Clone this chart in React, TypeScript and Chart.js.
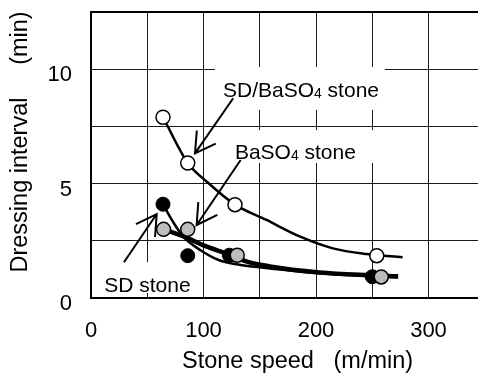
import { useEffect, useRef } from 'react';
import { Chart, registerables } from 'chart.js';

Chart.register(...registerables);

// Axis tick labels shown
const xTickLabels = [0, 100, 200, 300];
const yTickLabels = [0, 5, 10];

// Measured points
const sdBaPointsX = [64, 86, 128, 254];
const sdBaPointsY = [7.9, 5.9, 4.08, 1.85];
const sdPointsX = [64, 86, 123, 250];
const sdPointsY = [4.1, 1.85, 1.87, 0.93];
const baPointsX = [64.5, 86, 130, 258];
const baPointsY = [3.0, 3.0, 1.87, 0.92];

// Fitted curves
const sdBaCurveX = [64, 86, 103, 128, 156, 186, 215, 245, 277];
const sdBaCurveY = [7.9, 5.9, 5.08, 4.08, 3.41, 2.68, 2.17, 1.92, 1.78];
const baCurveX = [64.5, 86, 100, 123, 138, 159, 203, 245, 273];
const baCurveY = [3.0, 2.62, 2.3, 1.9, 1.6, 1.38, 1.12, 1.0, 0.95];
const sdCurveX = [64, 72, 82, 97, 114, 132, 150, 186, 220, 250, 273];
const sdCurveY = [4.1, 3.4, 2.68, 2.1, 1.65, 1.45, 1.34, 1.15, 1.02, 0.95, 0.9];

// Annotation texts (in data units)
const labelTexts = [
  { parts: ['SD/BaSO', '4', ' stone'], x: 117.3, y: 8.8, box: [110.2, 10.1, 261.2, 8.22] },
  { parts: ['BaSO', '4', ' stone'], x: 127.9, y: 6.06, box: [121.7, 7.34, 255, 5.9] },
  { parts: ['SD stone'], x: 11.8, y: 0.275, box: [8, 1.57, 92.4, 0.22] },
];
const arrows = [
  { from: [126.4, 8.73], to: [92.4, 6.32] },
  { from: [133, 6.03], to: [93.9, 3.19] },
  { from: [29.3, 1.56], to: [58.4, 3.67] },
];

const FONT = '"Liberation Sans", Arial, Helvetica, sans-serif';

const zip = (xs: number[], ys: number[]) => xs.map((x, i) => ({ x, y: ys[i] }));

const annotPlugin = {
  id: 'annot',
  beforeDatasetsDraw(chart: any) {
    const { ctx } = chart;
    const xs = chart.scales.x;
    const ys = chart.scales.y;
    const px = (v: number) => xs.getPixelForValue(v);
    const py = (v: number) => ys.getPixelForValue(v);
    ctx.save();
    ctx.fillStyle = '#fff';
    for (const l of labelTexts) {
      const [x0, y0, x1, y1] = l.box;
      ctx.fillRect(px(x0), py(y0), px(x1) - px(x0), py(y1) - py(y0));
    }
    ctx.fillStyle = '#000';
    ctx.textBaseline = 'alphabetic';
    ctx.textAlign = 'left';
    for (const l of labelTexts) {
      let cx = px(l.x);
      const by = py(l.y);
      l.parts.forEach((p, i) => {
        const sub = l.parts.length === 3 && i === 1;
        ctx.font = sub ? `14px ${FONT}` : `21px ${FONT}`;
        ctx.fillText(p, cx, sub ? by + 1 : by);
        cx += ctx.measureText(p).width;
      });
    }
    ctx.strokeStyle = '#000';
    ctx.lineWidth = 2;
    ctx.lineCap = 'butt';
    for (const a of arrows) {
      const x1 = px(a.from[0]), y1 = py(a.from[1]);
      const x2 = px(a.to[0]), y2 = py(a.to[1]);
      const ang = Math.atan2(y1 - y2, x1 - x2);
      const L = 23;
      const h = Math.PI / 6;
      ctx.beginPath();
      ctx.moveTo(x1, y1);
      ctx.lineTo(x2, y2);
      ctx.moveTo(x2 + L * Math.cos(ang + h), y2 + L * Math.sin(ang + h));
      ctx.lineTo(x2, y2);
      ctx.lineTo(x2 + L * Math.cos(ang - h), y2 + L * Math.sin(ang - h));
      ctx.stroke();
    }
    ctx.restore();
  },
};

export default function App() {
  const ref = useRef<HTMLCanvasElement | null>(null);
  useEffect(() => {
    document.body.style.margin = '0';
    const canvas = ref.current;
    if (!canvas) return;
    const chart = new Chart(canvas, {
      type: 'scatter',
      data: {
        datasets: [
          {
            label: 'SD/BaSO4 stone',
            data: zip(sdBaPointsX, sdBaPointsY),
            pointRadius: 7,
            pointBackgroundColor: '#fff',
            pointBorderColor: '#000',
            pointBorderWidth: 1.5,
            order: 1,
          },
          {
            label: 'BaSO4 stone',
            data: zip(baPointsX, baPointsY),
            pointRadius: 7,
            pointBackgroundColor: '#bdbdbd',
            pointBorderColor: '#000',
            pointBorderWidth: 1.5,
            order: 2,
          },
          {
            label: 'SD stone',
            data: zip(sdPointsX, sdPointsY),
            pointRadius: 7,
            pointBackgroundColor: '#000',
            pointBorderColor: '#000',
            pointBorderWidth: 1,
            order: 3,
          },
          {
            label: 'SD/BaSO4 curve',
            data: zip(sdBaCurveX, sdBaCurveY),
            showLine: true,
            borderColor: '#000',
            borderWidth: 2.5,
            pointRadius: 0,
            cubicInterpolationMode: 'monotone',
            order: 5,
          },
          {
            label: 'BaSO4 curve',
            data: zip(baCurveX, baCurveY),
            showLine: true,
            borderColor: '#000',
            borderWidth: 4.5,
            pointRadius: 0,
            cubicInterpolationMode: 'monotone',
            order: 6,
          },
          {
            label: 'SD curve',
            data: zip(sdCurveX, sdCurveY),
            showLine: true,
            borderColor: '#000',
            borderWidth: 2.5,
            pointRadius: 0,
            cubicInterpolationMode: 'monotone',
            order: 7,
          },
        ] as any,
      },
      options: {
        animation: false,
        responsive: false,
        devicePixelRatio: 1,
        layout: { autoPadding: false, padding: { top: 12, left: 0, right: 0, bottom: 0 } },
        plugins: { legend: { display: false }, tooltip: { enabled: false } },
        scales: {
          x: {
            type: 'linear',
            min: 0,
            max: 344,
            afterBuildTicks: (axis: any) => {
              axis.ticks = axis.ticks.filter((t: any) => Math.abs(t.value % 50) < 1e-9);
            },
            afterFit: (axis: any) => {
              axis.height = 78;
              axis.paddingLeft = 0;
              axis.paddingRight = 0;
            },
            ticks: {
              stepSize: 50,
              includeBounds: false,
              padding: 20,
              color: '#000',
              font: { family: FONT, size: 22 },
              maxRotation: 0,
              autoSkip: false,
              callback: (v: any) => (xTickLabels.includes(Number(v)) ? String(v) : ''),
            },
            grid: { color: '#1a1a1a', lineWidth: 1, drawTicks: false },
            border: { color: '#000', width: 2 },
            title: {
              display: true,
              text: '    Stone speed   (m/min)',
              color: '#000',
              font: { family: FONT, size: 23.5 },
              padding: { top: 0, bottom: 0 },
            },
          },
          y: {
            type: 'linear',
            min: 0,
            max: 12.5,
            afterFit: (axis: any) => {
              axis.width = 91;
              axis.paddingTop = 0;
              axis.paddingBottom = 0;
            },
            ticks: {
              stepSize: 2.5,
              includeBounds: false,
              padding: 19,
              labelOffset: 6,
              color: '#000',
              font: { family: FONT, size: 22 },
              autoSkip: false,
              callback: (v: any) => (yTickLabels.includes(Number(v)) ? String(v) : ''),
            },
            grid: {
              color: (c: any) => (c.tick && c.tick.value === 12.5 ? '#000' : '#1a1a1a'),
              lineWidth: (c: any) => (c.tick && c.tick.value === 12.5 ? 2 : 1),
              drawTicks: false,
            },
            border: { color: '#000', width: 2 },
            title: {
              display: true,
              text: '    Dressing interval     (min)',
              color: '#000',
              font: { family: FONT, size: 23.5 },
              padding: { top: 6, bottom: 0 },
            },
          },
        },
      } as any,
      plugins: [annotPlugin],
    });
    return () => chart.destroy();
  }, []);
  return (
    <div style={{ width: 478, height: 376 }}>
      <canvas ref={ref} width={478} height={376} style={{ display: 'block' }} />
    </div>
  );
}
